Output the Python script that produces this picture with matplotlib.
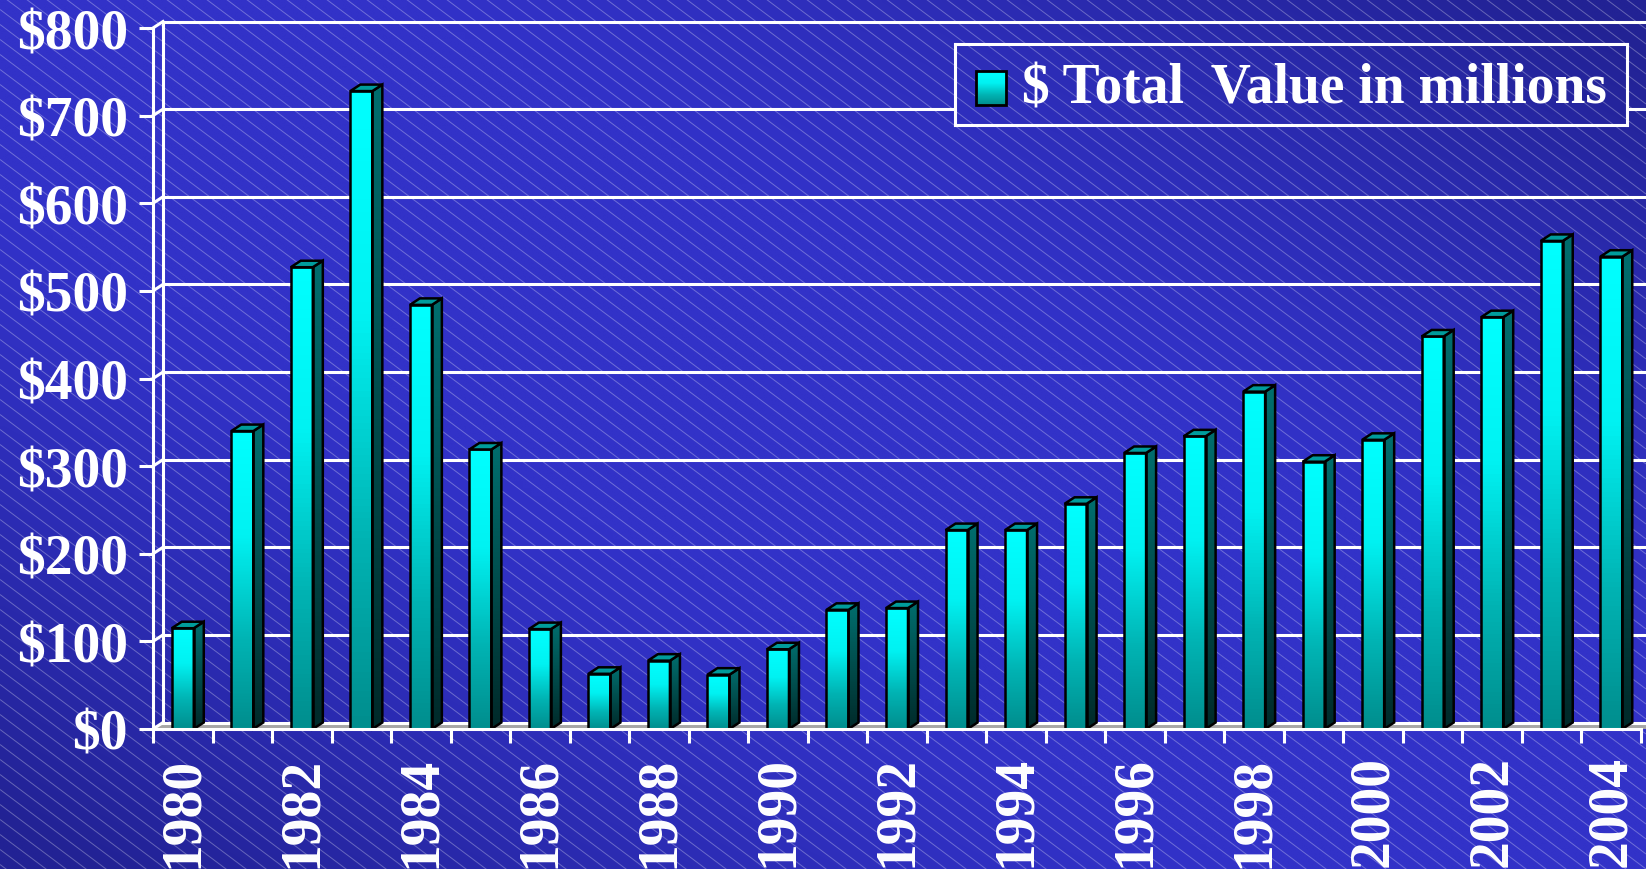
#imports
import numpy as np
import matplotlib
matplotlib.use("Agg")
import matplotlib.pyplot as plt
from matplotlib.patches import Polygon, Rectangle
from matplotlib.collections import LineCollection
from matplotlib.colors import LinearSegmentedColormap

#data
years = list(range(1980, 2005))
values = [115, 340, 527, 728, 484, 319, 114, 63, 78, 62, 91, 136, 138,
          227, 227, 257, 315, 334, 385, 305, 330, 448, 470, 557, 539]
y_ticks = [0, 100, 200, 300, 400, 500, 600, 700, 800]
y_labels = ["$0", "$100", "$200", "$300", "$400", "$500", "$600", "$700", "$800"]
legend_label = "$ Total  Value in millions"

W, H = 1646, 870
font = "Liberation Serif"

front_cmap = LinearSegmentedColormap.from_list(
    "front", [(0, "#00ffff"), (0.35, "#00f2f2"), (0.7, "#00b4b4"), (1, "#008e8e")])
side_cmap = LinearSegmentedColormap.from_list("side", ["#006e6e", "#002a2a"])


def draw_background(bx, x0, x1, y0, y1):
    # blue gradient, lighter along the main diagonal
    xs = np.linspace(x0, x1, 200)
    ys = np.linspace(y0, y1, 120)
    X, Y = np.meshgrid(xs, ys)
    d = np.abs(X / W - Y / H)
    s = np.clip((d - 0.25) / 0.7, 0, 1) ** 1.3
    light = np.array([50, 50, 200]) / 255
    dark = np.array([34, 34, 148]) / 255
    img = light[None, None, :] * (1 - s[..., None]) + dark[None, None, :] * s[..., None]
    bx.imshow(img, extent=[x0, x1, y1, y0], aspect="auto", interpolation="bilinear")
    # thin diagonal stripes
    slope = 0.75
    segs = []
    for c in np.arange(-slope * W, H + 15, 15):
        segs.append([(0, c), (W, c + slope * W)])
    bx.add_collection(LineCollection(segs, colors="white", linewidths=0.7, alpha=0.3))
    bx.set_xlim(x0, x1)
    bx.set_ylim(y1, y0)
    bx.set_xticks([])
    bx.set_yticks([])


fig = plt.figure(figsize=(W / 100, H / 100), dpi=100)

bg = fig.add_axes([0, 0, 1, 1], zorder=-1)
draw_background(bg, 0, W, 0, H)
for s in bg.spines.values():
    s.set_visible(False)

#main axes is the front plane of the 3d chart
ax = fig.add_axes([153 / W, (H - 730) / H, 1488 / W, 701 / H])
ax.set_facecolor("none")
n = len(years)
x = np.arange(n)
ax.set_xlim(-0.5, n - 0.5)
ax.set_ylim(0, 800)

px_x = 1488 / n
px_y = 701 / 800
dx = 10 / px_x
dy = 6.5 / px_y
w = 0.37

#floor
floor = Polygon([(-0.5, 0), (n + 0.5, 0), (n + 0.5 + dx, dy), (-0.5 + dx, dy)],
                closed=True, facecolor="#a6a6a6", edgecolor="none", clip_on=False, zorder=1)
ax.add_patch(floor)

#back wall gridlines and left wall
for v in y_ticks:
    ax.plot([-0.5 + dx, n + 1], [v + dy, v + dy], color="white", lw=2.2,
            clip_on=False, zorder=2, solid_capstyle="butt")
    ax.plot([-0.5, -0.5 + dx], [v, v + dy], color="white", lw=2.2, clip_on=False, zorder=2)
ax.plot([-0.5 + dx, -0.5 + dx], [dy, 800 + dy], color="white", lw=2.2, clip_on=False, zorder=2)

#bars
for i, v in enumerate(values):
    l = x[i] - w / 2
    r = x[i] + w / 2
    front = ax.bar(x[i], v, width=w, color="none", edgecolor="black", lw=1.8,
                   zorder=5, clip_on=False)[0]
    im = ax.imshow(np.linspace(0, 1, 100).reshape(-1, 1), extent=[l, r, 0, v],
                   origin="upper", aspect="auto", cmap=front_cmap, zorder=4)
    im.set_clip_path(front)
    side = Polygon([(r, 0), (r + dx, dy), (r + dx, v + dy), (r, v)], closed=True,
                   facecolor="none", edgecolor="black", lw=1.8, zorder=5, clip_on=False)
    ax.add_patch(side)
    im2 = ax.imshow(np.linspace(0, 1, 100).reshape(-1, 1), extent=[r, r + dx, 0, v + dy],
                    origin="upper", aspect="auto", cmap=side_cmap, zorder=4)
    im2.set_clip_path(side)
    top = Polygon([(l, v), (r, v), (r + dx, v + dy), (l + dx, v + dy)], closed=True,
                  facecolor="#009c9c", edgecolor="black", lw=1.8, zorder=5, clip_on=False)
    ax.add_patch(top)

ax.set_xlim(-0.5, n - 0.5)
ax.set_ylim(0, 800)

#axes styling
for side_name in ["top", "right"]:
    ax.spines[side_name].set_visible(False)
ax.spines["left"].set_color("white")
ax.spines["left"].set_linewidth(2.2)
ax.spines["bottom"].set_color("white")
ax.spines["bottom"].set_linewidth(2.2)
ax.spines["bottom"].set_zorder(6)

ax.set_yticks(y_ticks)
ax.set_yticklabels(y_labels, fontsize=40, fontweight="bold", family=font, color="white")
ax.tick_params(axis="y", length=10, width=2.2, color="white", pad=8)

ax.set_xticks(np.arange(n + 1) - 0.5)
ax.set_xticklabels([])
ax.tick_params(axis="x", which="major", length=10, width=2.2, color="white")
ax.set_xticks(x[::2], minor=True)
ax.set_xticklabels([str(yr) for yr in years[::2]], minor=True, rotation=90,
                   fontsize=40, fontweight="bold", family=font, color="white", va="top")
ax.tick_params(axis="x", which="minor", length=0, pad=19)

#legend box with the same background behind it
lg = fig.add_axes([955 / W, (H - 126) / H, 672 / W, 81 / H], zorder=10)
draw_background(lg, 955, 1627, 45, 126)
for s in lg.spines.values():
    s.set_color("white")
    s.set_linewidth(2.2)
sw = Rectangle((976, 72), 30, 34, facecolor="none", edgecolor="black", lw=2, zorder=3)
lg.add_patch(sw)
im3 = lg.imshow(np.linspace(0, 1, 50).reshape(-1, 1), extent=[976, 1006, 106, 72],
                origin="upper", aspect="auto", cmap=front_cmap, zorder=2)
im3.set_clip_path(sw)
lg.set_xlim(955, 1627)
lg.set_ylim(126, 45)
lg.text(1022, 89, legend_label, fontsize=40, fontweight="bold", family=font,
        color="white", va="center", ha="left")

fig.savefig("out.png", dpi=100)
